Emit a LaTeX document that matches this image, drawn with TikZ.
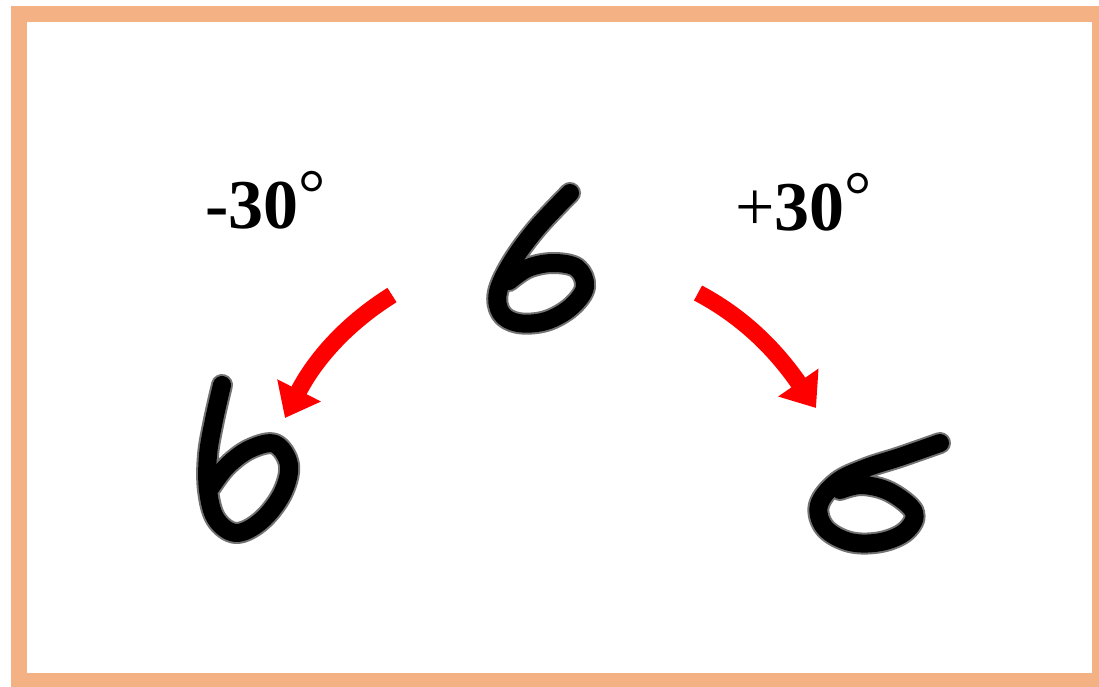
\documentclass[tikz,border=0pt]{standalone}
\usepackage{fontspec}
\setmainfont{Liberation Serif}
\usetikzlibrary{arrows.meta}
\definecolor{framepeach}{HTML}{F4B183}
\definecolor{turnred}{HTML}{FF0000}

% one handwritten stroke: soft grey rim, then the black ink
\newcommand{\inkstroke}[1]{%
  \draw[inkrim] plot[smooth, tension=0.6] coordinates {#1};
  \draw[ink] plot[smooth, tension=0.6] coordinates {#1};}
% raised thin degree ring
\newcommand{\degring}{{\mdseries\fontsize{68}{70}\selectfont\raisebox{12pt}{°}}}

\begin{document}
\begin{tikzpicture}[x=1pt, y=-1pt,
    ink/.style={black, line width=18pt, line cap=round, line join=round},
    inkrim/.style={black!55, line width=22pt, line cap=round, line join=round},
    angletext/.style={font=\fontsize{70}{80}\selectfont\bfseries, inner sep=0pt, anchor=base west},
    turn/.style={turnred, line width=17pt, -{Triangle[length=31pt, width=47pt]}}]

    \useasboundingbox (0,0) rectangle (1099,686);
    \clip (0,0) rectangle (1099,686);
    \fill[white] (0,0) rectangle (1099,686);

    % ================= FRAME =================
    \draw[framepeach, line width=16pt] (19,14) rectangle (1100,681);

    % ================= DIGITS =================
    % upright six (middle)
    \inkstroke{(570,193) (537,228) (512,262) (498,292) (501,313) (518,323) (546,321)
               (571,307) (585,287) (577,268) (553,263) (528,268) (509,281)}

    % six turned by -30 (left)
    \inkstroke{(222,385) (214,420) (208,455) (208,490) (216,519) (236,533) (261,521)
               (282,494) (289,465) (275,444) (250,449) (227,466) (211,487)}

    % six turned by +30 (right)
    \inkstroke{(940,443) (900,457) (866,468) (837,482) (819,505) (825,528) (850,542)
               (881,542) (906,531) (914,512) (890,492) (862,485) (840,490)}

    % ================= LABELS =================
    \node[angletext] (minuslabel) at (205,228) {-30\degring};
    \node[angletext] (pluslabel) at (735,230) {{\mdseries +}30\degring};

    % ================= ROTATIONS =================
    \coordinate (lefttail) at (392,295);
    \coordinate (lefttip) at (285,418);
    \coordinate (righttail) at (698,293);
    \coordinate (righttip) at (816,408);

    \draw[turn] (lefttail) .. controls (341,327) and (312,365) .. (lefttip);
    \draw[turn] (righttail) .. controls (751,321) and (782,359) .. (righttip);

\end{tikzpicture}
\end{document}
